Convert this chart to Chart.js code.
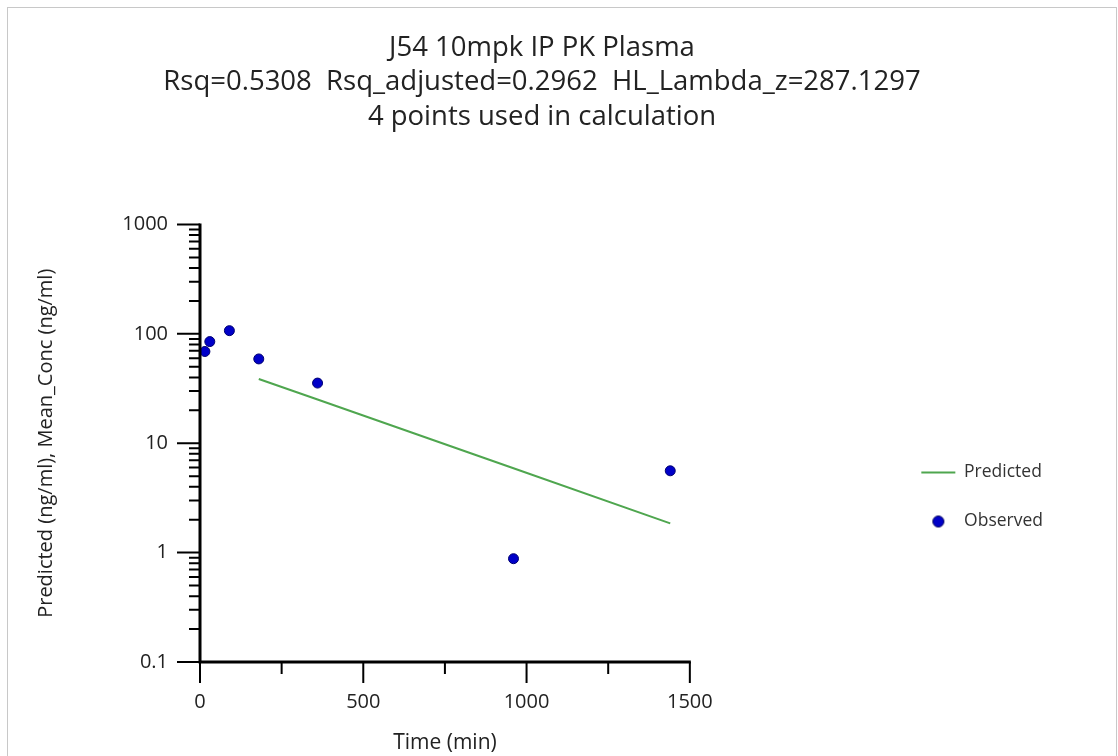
<!DOCTYPE html>
<html>
<head>
<meta charset="utf-8">
<script src="https://cdn.jsdelivr.net/npm/chart.js@4/dist/chart.umd.min.js"></script>
<style>
  html, body { margin: 0; padding: 0; background: #fff; width: 1118px; height: 756px; overflow: hidden; }
  #frame { position: absolute; left: 7px; top: 7px; width: 1110px; height: 760px; border: 1px solid #c8c8c8; box-sizing: border-box; pointer-events: none; }
  #wrap { position: absolute; left: 0; top: 0; width: 1118px; height: 756px; }
</style>
</head>
<body>
<div id="wrap"><canvas id="c" width="1118" height="756"></canvas></div>
<div id="frame"></div>
<script>
// ---- data ----
const titleLines = [
  'J54 10mpk IP PK Plasma',
  'Rsq=0.5308  Rsq_adjusted=0.2962  HL_Lambda_z=287.1297',
  '4 points used in calculation'
];
const observedTime = [15, 30, 90, 180, 360, 960, 1440];
const observedConc = [69, 85, 107, 59, 35.5, 0.88, 5.6];
const predictedTime = [180, 360, 960, 1440];
const predictedConc = [38.7, 25.1, 5.9, 1.85];
const xTicks = [0, 500, 1000, 1500];
const xTickLabels = ['0', '500', '1000', '1500'];
const xMinorTicks = [250, 750, 1250];
const yTicks = [0.1, 1, 10, 100, 1000];
const yTickLabels = ['0.1', '1', '10', '100', '1000'];
const yMinorTicks = [0.2,0.3,0.4,0.5,0.6,0.7,0.8,0.9, 2,3,4,5,6,7,8,9, 20,30,40,50,60,70,80,90, 200,300,400,500,600,700,800,900];

const FONT = "'Open Sans', 'DejaVu Sans', sans-serif";

// legend circle symbol
const dot = document.createElement('canvas');
dot.width = 14; dot.height = 14;
(function(){
  const g = dot.getContext('2d');
  g.beginPath(); g.arc(7, 7, 5.5, 0, Math.PI*2);
  g.fillStyle = '#0000c8'; g.fill();
  g.lineWidth = 1; g.strokeStyle = '#000060'; g.stroke();
})();

const axisPlugin = {
  id: 'axisPlugin',
  afterDatasetsDraw(chart) {
    const ctx = chart.ctx;
    const xs = chart.scales.x, ys = chart.scales.y;
    const x0 = xs.getPixelForValue(0), x1 = xs.getPixelForValue(1500);
    const yb = ys.getPixelForValue(0.1), yt = ys.getPixelForValue(1000);
    ctx.save();
    ctx.strokeStyle = '#000';
    ctx.lineCap = 'butt';
    ctx.lineWidth = 2;
    ctx.beginPath();
    yTicks.forEach(v => { const p = ys.getPixelForValue(v); ctx.moveTo(x0 - 23, p); ctx.lineTo(x0, p); });
    yMinorTicks.forEach(v => { const p = ys.getPixelForValue(v); ctx.moveTo(x0 - 11, p); ctx.lineTo(x0, p); });
    xTicks.forEach(v => { const p = xs.getPixelForValue(v); ctx.moveTo(p, yb); ctx.lineTo(p, yb + 21); });
    xMinorTicks.forEach(v => { const p = xs.getPixelForValue(v); ctx.moveTo(p, yb); ctx.lineTo(p, yb + 12); });
    ctx.stroke();
    ctx.lineWidth = 3;
    ctx.beginPath();
    ctx.moveTo(x0, yt - 1); ctx.lineTo(x0, yb + 1.5);
    ctx.moveTo(x0 - 1.5, yb); ctx.lineTo(x1 + 1, yb);
    ctx.stroke();
    ctx.restore();
  }
};

new Chart(document.getElementById('c'), {
  type: 'scatter',
  data: {
    datasets: [
      {
        label: 'Predicted',
        data: predictedTime.map((t, i) => ({x: t, y: predictedConc[i]})),
        showLine: true,
        borderColor: '#4fa64f',
        borderWidth: 2,
        pointRadius: 0,
        fill: false
      },
      {
        label: 'Observed',
        data: observedTime.map((t, i) => ({x: t, y: observedConc[i]})),
        showLine: false,
        pointRadius: 5,
        backgroundColor: '#0000c8',
        borderColor: '#000070',
        borderWidth: 1
      }
    ]
  },
  options: {
    responsive: false,
    animation: false,
    events: [],
    layout: { padding: { left: 31, right: 65, top: 0, bottom: 0 } },
    plugins: {
      title: {
        display: true,
        text: titleLines,
        color: '#222',
        font: { family: FONT, size: 27.5, weight: 'normal', lineHeight: 1.2545 },
        padding: { top: 30.5, bottom: 90.5 }
      },
      legend: {
        display: true,
        position: 'right',
        align: 'start',
        fullSize: false,
        title: { display: true, text: '', padding: { top: 0, bottom: 188.5 }, font: { size: 16 } },
        labels: {
          usePointStyle: true,
          pointStyleWidth: 34,
          boxHeight: 9,
          padding: 31.5,
          color: '#333',
          font: { family: FONT, size: 17.5 },
          generateLabels(chart) {
            return chart.data.datasets.map((ds, i) => ({
              text: ds.label,
              datasetIndex: i,
              hidden: false,
              pointStyle: i === 0 ? 'line' : dot,
              strokeStyle: ds.borderColor,
              fillStyle: i === 0 ? ds.borderColor : ds.backgroundColor,
              lineWidth: 2,
              fontColor: '#333'
            }));
          }
        }
      },
      tooltip: { enabled: false }
    },
    scales: {
      x: {
        type: 'linear',
        min: 0, max: 1500,
        afterBuildTicks(s) { s.ticks = xTicks.map(v => ({value: v})); },
        afterFit(s) { s.height = 94; },
        grid: { display: false },
        border: { display: false },
        ticks: { color: '#222', font: { family: FONT, size: 20 }, padding: 20, maxRotation: 0, autoSkip: false,
                 callback: (v, i) => xTickLabels[i] },
        title: { display: true, text: 'Time (min)', color: '#222', font: { family: FONT, size: 21 }, padding: { top: 0, bottom: 0 } }
      },
      y: {
        type: 'logarithmic',
        min: 0.1, max: 1000,
        afterBuildTicks(s) { s.ticks = yTicks.map(v => ({value: v})); },
        afterFit(s) { s.width = 169; },
        grid: { display: false },
        border: { display: false },
        ticks: { color: '#222', font: { family: FONT, size: 20 }, padding: 24, autoSkip: false,
                 callback: (v, i) => yTickLabels[i] },
        title: { display: true, text: 'Predicted (ng/ml), Mean_Conc (ng/ml)', color: '#222', font: { family: FONT, size: 20 }, padding: { top: 3, bottom: 0 } }
      },
      y2: {
        type: 'linear',
        position: 'right',
        display: true,
        afterFit(s) { s.width = 200; },
        grid: { display: false },
        border: { display: false },
        ticks: { display: false }
      }
    }
  },
  plugins: [axisPlugin]
});
</script>
</body>
</html>
